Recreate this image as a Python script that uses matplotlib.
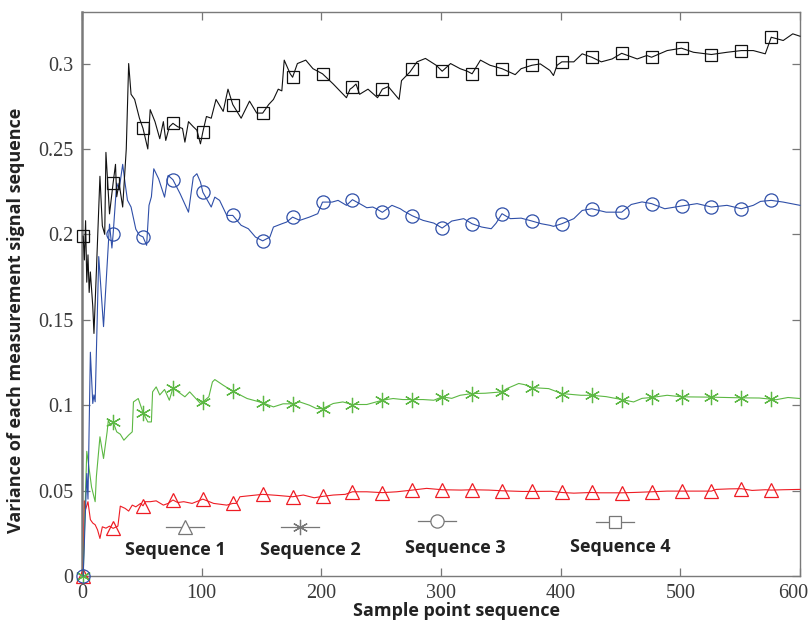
import matplotlib
matplotlib.use("Agg")
import matplotlib.pyplot as plt
import matplotlib.transforms as mtransforms
from matplotlib.ticker import FormatStrFormatter

# sample index / variance pairs for each measurement sequence
seq1_x = [1, 2, 3, 5, 7, 9, 11, 13, 15, 17, 20, 23, 26, 30, 32, 36, 39, 42, 45, 49,
          51, 53, 57, 62, 68, 72, 76, 80, 85, 92, 101, 110, 121, 126, 129, 132, 140,
          151, 163, 176, 185, 194, 201, 210, 220, 226, 238, 251, 263, 276, 288, 301,
          317, 326, 340, 351, 368, 376, 392, 401, 411, 426, 433, 451, 461, 476, 489,
          501, 526, 530, 541, 551, 560, 571, 576, 586, 600]
seq1_y = [0.0, 0.044, 0.039, 0.0435, 0.033, 0.031, 0.030, 0.027, 0.022, 0.0288, 0.028,
          0.0292, 0.0279, 0.0292, 0.0409, 0.0396, 0.038, 0.0415, 0.0405, 0.0425,
          0.0411, 0.0435, 0.0435, 0.044, 0.0415, 0.0425, 0.0445, 0.043, 0.0435, 0.0425,
          0.045, 0.0425, 0.0415, 0.0425, 0.0425, 0.0464, 0.047, 0.0478, 0.0472, 0.0464,
          0.0474, 0.0458, 0.0466, 0.0474, 0.0478, 0.0493, 0.0493, 0.0488, 0.0493,
          0.0503, 0.0513, 0.0505, 0.0503, 0.0505, 0.0503, 0.0499, 0.0495, 0.0495,
          0.0496, 0.0489, 0.0485, 0.0489, 0.0487, 0.0487, 0.0489, 0.0493, 0.0497,
          0.0497, 0.0497, 0.0507, 0.051, 0.0511, 0.0501, 0.0505, 0.0503, 0.0505, 0.0507]

seq2_x = [1, 3, 4, 5, 8, 11, 12, 15, 18, 21, 22, 24, 26, 29, 32, 35, 39, 42, 43, 47,
          51, 55, 58, 59, 62, 65, 69, 73, 76, 80, 86, 90, 95, 99, 101, 106, 109, 111,
          118, 126, 138, 151, 160, 168, 176, 182, 190, 196, 201, 210, 218, 226, 238,
          251, 260, 268, 276, 285, 294, 301, 309, 316, 326, 337, 351, 355, 365, 370,
          376, 390, 401, 417, 426, 438, 451, 461, 468, 476, 489, 501, 526, 551, 566,
          576, 580, 590, 600]
seq2_y = [0.0, 0.05, 0.073, 0.068, 0.052, 0.0435, 0.058, 0.0815, 0.0688, 0.0844,
          0.0912, 0.088, 0.0902, 0.0844, 0.083, 0.0795, 0.0825, 0.0844, 0.1019, 0.1039,
          0.0957, 0.0902, 0.0902, 0.1078, 0.1107, 0.106, 0.1092, 0.1029, 0.1101, 0.108,
          0.1049, 0.1078, 0.104, 0.101, 0.1019, 0.1049, 0.1136, 0.115, 0.1117, 0.1082,
          0.1039, 0.1014, 0.099, 0.1008, 0.1008, 0.1019, 0.100, 0.098, 0.098, 0.101,
          0.1019, 0.1004, 0.1004, 0.1029, 0.1039, 0.1033, 0.1033, 0.1033, 0.1029,
          0.1049, 0.104, 0.1058, 0.1068, 0.107, 0.1078, 0.1097, 0.1127, 0.112, 0.1103,
          0.1097, 0.1068, 0.1058, 0.1058, 0.105, 0.1033, 0.1019, 0.104, 0.1045, 0.1058,
          0.1049, 0.1047, 0.1043, 0.1042, 0.1035, 0.1032, 0.1045, 0.1039]

seq3_x = [1, 2, 4, 5, 7, 9, 10, 11, 14, 18, 23, 25, 26, 29, 31, 34, 36, 38, 41, 45,
          48, 51, 54, 56, 58, 60, 64, 69, 72, 76, 82, 89, 93, 96, 99, 101, 108, 111,
          115, 121, 126, 133, 139, 145, 151, 157, 160, 167, 171, 176, 182, 190, 197,
          201, 209, 214, 221, 226, 232, 238, 243, 246, 251, 259, 266, 269, 276, 285,
          294, 301, 309, 319, 326, 334, 342, 346, 351, 358, 367, 376, 384, 391, 394,
          401, 411, 418, 426, 438, 451, 459, 468, 476, 487, 501, 514, 526, 539, 551,
          561, 567, 576, 586, 600]
seq3_y = [0.0, 0.02, 0.06, 0.045, 0.131, 0.101, 0.106, 0.102, 0.187, 0.146, 0.206,
          0.192, 0.200, 0.230, 0.226, 0.241, 0.230, 0.220, 0.216, 0.203, 0.1995,
          0.1985, 0.1936, 0.217, 0.222, 0.2384, 0.2326, 0.2218, 0.2345, 0.232, 0.2238,
          0.213, 0.2335, 0.2355, 0.2306, 0.2247, 0.216, 0.2218, 0.2199, 0.2111, 0.2111,
          0.2053, 0.2033, 0.1984, 0.1962, 0.1984, 0.2043, 0.2062, 0.2072, 0.2101,
          0.2082, 0.2101, 0.2121, 0.2189, 0.2189, 0.2199, 0.217, 0.2203, 0.218, 0.2156,
          0.216, 0.215, 0.2129, 0.217, 0.215, 0.2136, 0.2109, 0.2082, 0.2066, 0.2037,
          0.2078, 0.2092, 0.2062, 0.2043, 0.2033, 0.2065, 0.2121, 0.2092, 0.2095,
          0.2078, 0.2062, 0.2053, 0.2047, 0.2062, 0.2092, 0.214, 0.215, 0.213, 0.213,
          0.2175, 0.219, 0.218, 0.215, 0.2166, 0.218, 0.216, 0.217, 0.215, 0.217,
          0.2193, 0.2199, 0.2189, 0.217]

seq4_x = [1, 2, 3, 4, 5, 6, 7, 9, 10, 12, 15, 17, 19, 20, 23, 26, 28, 29, 31, 34, 37,
          39, 41, 44, 48, 51, 55, 57, 61, 65, 68, 70, 73, 76, 80, 84, 86, 89, 93, 96,
          99, 101, 104, 108, 112, 118, 122, 126, 133, 140, 146, 151, 156, 160, 164,
          167, 169, 174, 176, 180, 187, 193, 201, 210, 221, 224, 226, 229, 232, 239,
          247, 251, 256, 265, 267, 274, 276, 280, 287, 296, 301, 308, 316, 322, 326,
          333, 341, 351, 362, 367, 376, 383, 391, 394, 397, 401, 411, 418, 426, 434,
          443, 451, 464, 472, 476, 489, 501, 511, 526, 539, 551, 561, 571, 576, 586,
          594, 600]
seq4_y = [0.199, 0.185, 0.208, 0.172, 0.188, 0.166, 0.178, 0.158, 0.142, 0.178, 0.234,
          0.205, 0.200, 0.248, 0.212, 0.230, 0.241, 0.222, 0.230, 0.216, 0.250, 0.300,
          0.282, 0.279, 0.268, 0.262, 0.250, 0.273, 0.266, 0.256, 0.266, 0.255, 0.263,
          0.265, 0.263, 0.262, 0.254, 0.266, 0.263, 0.261, 0.253, 0.260, 0.269, 0.268,
          0.279, 0.272, 0.285, 0.276, 0.268, 0.278, 0.271, 0.271, 0.276, 0.279, 0.285,
          0.284, 0.302, 0.294, 0.292, 0.300, 0.302, 0.297, 0.294, 0.288, 0.280, 0.285,
          0.286, 0.288, 0.282, 0.285, 0.280, 0.285, 0.2865, 0.279, 0.290, 0.295, 0.297,
          0.301, 0.303, 0.299, 0.2955, 0.300, 0.297, 0.2955, 0.294, 0.302, 0.299, 0.297,
          0.2935, 0.297, 0.299, 0.2998, 0.296, 0.293, 0.299, 0.301, 0.301, 0.3057,
          0.3037, 0.301, 0.3027, 0.306, 0.3027, 0.3047, 0.3037, 0.3076, 0.309, 0.3066,
          0.3053, 0.3066, 0.3076, 0.3076, 0.3057, 0.3154, 0.3135, 0.3174, 0.316]

labels = ["Sequence 1", "Sequence 2", "Sequence 3", "Sequence 4"]
colors = ["#ee1c24", "#5cb843", "#2f4fa8", "#111111"]
asterisk = (6, 2, 0)
markers = ["^", asterisk, "o", "s"]
marker_sizes = [10.5, 11, 9.5, 9]
mark_at = list(range(1, 600, 25))   # a marker every 25 samples

fig = plt.figure(figsize=(8.11, 6.28), dpi=100)
ax = fig.add_axes([0.1011, 0.0828, 0.8853, 0.8976])

series = [(seq1_x, seq1_y), (seq2_x, seq2_y), (seq3_x, seq3_y), (seq4_x, seq4_y)]
for (xs, ys), c, m, ms in zip(series, colors, markers, marker_sizes):
    idx = [xs.index(v) for v in mark_at]
    ax.plot(xs, ys, color=c, lw=0.8, marker=m, ms=ms, mfc="none", mec=c, mew=0.9,
            markevery=idx, clip_on=False, zorder=3)

ax.set_xlim(0, 600)
ax.set_ylim(0, 0.33)
ax.set_xticks(range(0, 601, 100))
ax.set_yticks([0, 0.05, 0.1, 0.15, 0.2, 0.25, 0.3])
ax.yaxis.set_major_formatter(FormatStrFormatter("%g"))

ax.tick_params(direction="in", length=6, width=0.9, color="#777777",
               top=True, right=True, pad=6, labelsize=14.5,
               labelfontfamily="Liberation Serif", labelcolor="#3a3a3a")
# pull the last x label inside the figure edge
last = ax.xaxis.get_major_ticks()[-1].label1
last.set_transform(last.get_transform() +
                   mtransforms.ScaledTranslation(-0.07, 0, fig.dpi_scale_trans))

for sp in ax.spines.values():
    sp.set_color("#7a7a7a")
    sp.set_linewidth(1.0)
ax.spines["left"].set_linewidth(1.8)

label_font = dict(family="Open Sans", weight="bold", size=13, color="#222222")
ax.set_xlabel("Sample point sequence", **label_font)
ax.set_ylabel("Variance of each measurement signal sequence", **label_font)
ax.xaxis.set_label_coords(0.521, -0.046)
ax.yaxis.set_label_coords(-0.079, 0.454)

# hand-placed legend: grey glyph on a short stroke, caption underneath
key_pos = [(0.1435, 0.0869), (0.3036, 0.0869), (0.4944, 0.0975), (0.7423, 0.0957)]
text_pos = [(0.1295, 0.046), (0.3175, 0.046), (0.5195, 0.0496), (0.7493, 0.0514)]
half = 0.026
for lab, m, ms, (kx, ky), (tx, ty) in zip(labels, markers, marker_sizes, key_pos, text_pos):
    ax.plot([kx - half, kx, kx + half], [ky, ky, ky], transform=ax.transAxes,
            color="#777777", lw=0.9, marker=m, ms=ms, mfc="white", mec="#777777",
            mew=0.9, markevery=[1], zorder=4)
    ax.text(tx, ty, lab, transform=ax.transAxes, ha="center", va="center",
            family="Open Sans", weight="bold", size=13, color="#222222")

fig.savefig("out.png", dpi=100)
